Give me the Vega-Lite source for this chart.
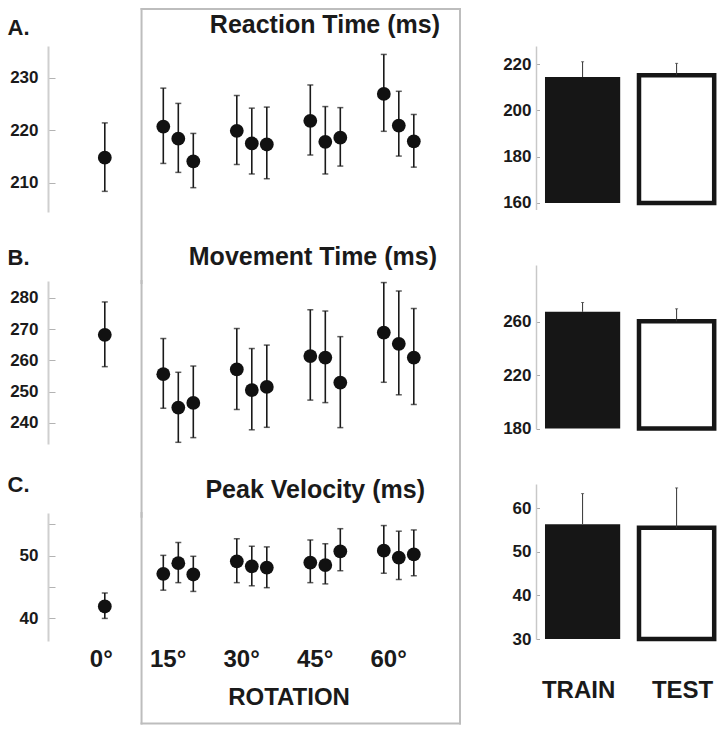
{
  "$schema": "https://vega.github.io/schema/vega-lite/v6.json",
  "background": "white",
  "padding": {"left": 7, "top": 7, "right": 0, "bottom": 0},
  "config": {
    "font": "Liberation Sans",
    "view": {"stroke": null},
    "title": {"fontSize": 25, "fontWeight": "bold", "color": "#1a1a1a"},
    "axis": {"grid": false, "labelFontWeight": "bold", "labelColor": "#1a1a1a", "titleColor": "#1a1a1a", "titleFontWeight": "bold"}
  },
  "datasets": {
    "box": [{"rotation": "15°"}],
    "rot": [
      {"measure": "RT", "rotation": "0°", "block": "2", "mean": 214.8, "lo": 208.4, "hi": 221.4},
      {"measure": "RT", "rotation": "15°", "block": "1", "mean": 220.7, "lo": 213.7, "hi": 228.0},
      {"measure": "RT", "rotation": "15°", "block": "2", "mean": 218.4, "lo": 212.0, "hi": 225.1},
      {"measure": "RT", "rotation": "15°", "block": "3", "mean": 214.1, "lo": 209.1, "hi": 219.4},
      {"measure": "RT", "rotation": "30°", "block": "1", "mean": 219.9, "lo": 213.5, "hi": 226.6},
      {"measure": "RT", "rotation": "30°", "block": "2", "mean": 217.5, "lo": 211.7, "hi": 224.2},
      {"measure": "RT", "rotation": "30°", "block": "3", "mean": 217.3, "lo": 210.8, "hi": 224.4},
      {"measure": "RT", "rotation": "45°", "block": "1", "mean": 221.8, "lo": 215.3, "hi": 228.6},
      {"measure": "RT", "rotation": "45°", "block": "2", "mean": 217.8, "lo": 211.7, "hi": 224.5},
      {"measure": "RT", "rotation": "45°", "block": "3", "mean": 218.6, "lo": 213.2, "hi": 224.3},
      {"measure": "RT", "rotation": "60°", "block": "1", "mean": 226.9, "lo": 219.8, "hi": 234.4},
      {"measure": "RT", "rotation": "60°", "block": "2", "mean": 220.9, "lo": 215.1, "hi": 227.4},
      {"measure": "RT", "rotation": "60°", "block": "3", "mean": 217.9, "lo": 213.0, "hi": 223.0},
      {"measure": "MT", "rotation": "0°", "block": "2", "mean": 268.2, "lo": 258.0, "hi": 278.7},
      {"measure": "MT", "rotation": "15°", "block": "1", "mean": 255.6, "lo": 244.7, "hi": 267.0},
      {"measure": "MT", "rotation": "15°", "block": "2", "mean": 244.9, "lo": 233.8, "hi": 256.2},
      {"measure": "MT", "rotation": "15°", "block": "3", "mean": 246.4, "lo": 235.3, "hi": 258.2},
      {"measure": "MT", "rotation": "30°", "block": "1", "mean": 257.1, "lo": 244.3, "hi": 270.2},
      {"measure": "MT", "rotation": "30°", "block": "2", "mean": 250.5, "lo": 237.8, "hi": 263.8},
      {"measure": "MT", "rotation": "30°", "block": "3", "mean": 251.5, "lo": 238.6, "hi": 264.9},
      {"measure": "MT", "rotation": "45°", "block": "1", "mean": 261.4, "lo": 247.3, "hi": 276.2},
      {"measure": "MT", "rotation": "45°", "block": "2", "mean": 260.9, "lo": 246.5, "hi": 275.8},
      {"measure": "MT", "rotation": "45°", "block": "3", "mean": 252.9, "lo": 238.5, "hi": 267.6},
      {"measure": "MT", "rotation": "60°", "block": "1", "mean": 268.9, "lo": 253.0, "hi": 284.9},
      {"measure": "MT", "rotation": "60°", "block": "2", "mean": 265.3, "lo": 249.0, "hi": 282.2},
      {"measure": "MT", "rotation": "60°", "block": "3", "mean": 260.9, "lo": 245.9, "hi": 276.6},
      {"measure": "PV", "rotation": "0°", "block": "2", "mean": 41.9, "lo": 40.0, "hi": 44.05},
      {"measure": "PV", "rotation": "15°", "block": "1", "mean": 47.1, "lo": 44.5, "hi": 50.05},
      {"measure": "PV", "rotation": "15°", "block": "2", "mean": 48.8, "lo": 45.7, "hi": 52.1},
      {"measure": "PV", "rotation": "15°", "block": "3", "mean": 47.0, "lo": 44.3, "hi": 49.9},
      {"measure": "PV", "rotation": "30°", "block": "1", "mean": 49.1, "lo": 45.7, "hi": 52.7},
      {"measure": "PV", "rotation": "30°", "block": "2", "mean": 48.3, "lo": 45.2, "hi": 51.5},
      {"measure": "PV", "rotation": "30°", "block": "3", "mean": 48.1, "lo": 44.9, "hi": 51.4},
      {"measure": "PV", "rotation": "45°", "block": "1", "mean": 48.9, "lo": 45.7, "hi": 52.5},
      {"measure": "PV", "rotation": "45°", "block": "2", "mean": 48.5, "lo": 45.5, "hi": 51.9},
      {"measure": "PV", "rotation": "45°", "block": "3", "mean": 50.7, "lo": 47.6, "hi": 54.3},
      {"measure": "PV", "rotation": "60°", "block": "1", "mean": 50.8, "lo": 47.2, "hi": 54.8},
      {"measure": "PV", "rotation": "60°", "block": "2", "mean": 49.7, "lo": 46.2, "hi": 53.9},
      {"measure": "PV", "rotation": "60°", "block": "3", "mean": 50.2, "lo": 46.8, "hi": 54.1}
    ],
    "bars": [
      {"measure": "RT", "cond": "TRAIN", "mean": 214.4, "hi": 221.0},
      {"measure": "RT", "cond": "TEST", "mean": 215.2, "hi": 220.3},
      {"measure": "MT", "cond": "TRAIN", "mean": 267.5, "hi": 274.5},
      {"measure": "MT", "cond": "TEST", "mean": 260.4, "hi": 269.75},
      {"measure": "PV", "cond": "TRAIN", "mean": 56.3, "hi": 63.3},
      {"measure": "PV", "cond": "TEST", "mean": 55.5, "hi": 64.6}
    ]
  },
  "bounds": "flush",
  "spacing": 488,
  "hconcat": [
    {
      "bounds": "flush",
      "spacing": 69,
      "vconcat": [
        {
          "width": 412, "height": 166,
          "title": {"text": "Reaction Time (ms)", "anchor": "end", "frame": "group", "offset": -30, "dx": -20},
          "layer": [
            {"data": {"name": "box"}, "mark": {"type": "rule", "stroke": "#bdbdbd", "strokeWidth": 2, "strokeCap": "square"},
             "encoding": {"x": {"field": "rotation", "type": "ordinal", "bandPosition": 0, "axis": null}, "y": {"datum": 243.03}, "y2": {"datum": 191}}},
            {"data": {"name": "box"}, "mark": {"type": "rule", "stroke": "#bdbdbd", "strokeWidth": 2, "strokeCap": "square"},
             "encoding": {"x": {"value": "width"}, "y": {"datum": 243.03}, "y2": {"datum": 191}}},
            {"data": {"name": "box"}, "mark": {"type": "rule", "stroke": "#bdbdbd", "strokeWidth": 2, "strokeCap": "square"},
             "encoding": {"x": {"field": "rotation", "type": "ordinal", "bandPosition": 0, "axis": null}, "x2": {"value": "width"}, "y": {"datum": 243.03}}},
            {"data": {"name": "rot"}, "transform": [{"filter": "datum.measure === 'RT'"}],
             "mark": {"type": "rule", "color": "#1a1a1a", "strokeWidth": 1.6},
             "encoding": {
               "x": {"field": "rotation", "type": "ordinal", "scale": {"domain": ["0°", "15°", "30°", "45°", "60°"], "paddingInner": 0, "paddingOuter": 0.3027, "align": 0.4506}, "axis": null},
               "xOffset": {"field": "block", "type": "nominal", "scale": {"domain": ["1", "2", "3"], "paddingInner": 0, "paddingOuter": 0.95}},
               "y": {"field": "lo", "type": "quantitative", "scale": {"domain": [204.48, 236.0], "nice": false, "zero": false},
                     "axis": {"values": [210, 220, 230], "title": "A.", "titleAngle": 0, "titleAlign": "left", "titleBaseline": "alphabetic", "titleX": -41, "titleY": -11.7, "titleFontSize": 22,
                              "tickSize": -7, "labelPadding": 17, "domainColor": "#cfcfcf", "domainWidth": 2, "tickColor": "#b3b3b3", "tickWidth": 1, "labelFontSize": 17}},
               "y2": {"field": "hi"}
             }},
            {"data": {"name": "rot"}, "transform": [{"filter": "datum.measure === 'RT'"}],
             "mark": {"type": "tick", "color": "#1a1a1a", "size": 6, "thickness": 1.5},
             "encoding": {"x": {"field": "rotation", "type": "ordinal", "axis": null}, "xOffset": {"field": "block", "type": "nominal"}, "y": {"field": "lo", "type": "quantitative"}}},
            {"data": {"name": "rot"}, "transform": [{"filter": "datum.measure === 'RT'"}],
             "mark": {"type": "tick", "color": "#1a1a1a", "size": 6, "thickness": 1.5},
             "encoding": {"x": {"field": "rotation", "type": "ordinal", "axis": null}, "xOffset": {"field": "block", "type": "nominal"}, "y": {"field": "hi", "type": "quantitative"}}},
            {"data": {"name": "rot"}, "transform": [{"filter": "datum.measure === 'RT'"}],
             "mark": {"type": "circle", "color": "#111111", "size": 190, "opacity": 1},
             "encoding": {"x": {"field": "rotation", "type": "ordinal", "axis": null}, "xOffset": {"field": "block", "type": "nominal"}, "y": {"field": "mean", "type": "quantitative"}}}
          ]
        },
        {
          "width": 412, "height": 163,
          "title": {"text": "Movement Time (ms)", "anchor": "end", "frame": "group", "offset": -24, "dx": -23},
          "layer": [
            {"data": {"name": "box"}, "mark": {"type": "rule", "stroke": "#bdbdbd", "strokeWidth": 2, "strokeCap": "square"},
             "encoding": {"x": {"field": "rotation", "type": "ordinal", "bandPosition": 0, "axis": null}, "y": {"datum": 285.4}, "y2": {"datum": 210}}},
            {"data": {"name": "box"}, "mark": {"type": "rule", "stroke": "#bdbdbd", "strokeWidth": 2, "strokeCap": "square"},
             "encoding": {"x": {"value": "width"}, "y": {"datum": 285.4}, "y2": {"datum": 210}}},
            {"data": {"name": "rot"}, "transform": [{"filter": "datum.measure === 'MT'"}],
             "mark": {"type": "rule", "color": "#1a1a1a", "strokeWidth": 1.6},
             "encoding": {
               "x": {"field": "rotation", "type": "ordinal", "scale": {"domain": ["0°", "15°", "30°", "45°", "60°"], "paddingInner": 0, "paddingOuter": 0.3027, "align": 0.4506}, "axis": null},
               "xOffset": {"field": "block", "type": "nominal", "scale": {"domain": ["1", "2", "3"], "paddingInner": 0, "paddingOuter": 0.95}},
               "y": {"field": "lo", "type": "quantitative", "scale": {"domain": [233.26, 285.4], "nice": false, "zero": false},
                     "axis": {"values": [240, 250, 260, 270, 280], "title": "B.", "titleAngle": 0, "titleAlign": "left", "titleBaseline": "alphabetic", "titleX": -41, "titleY": -16.7, "titleFontSize": 22,
                              "tickSize": -7, "labelPadding": 17, "domainColor": "#cfcfcf", "domainWidth": 2, "tickColor": "#b3b3b3", "tickWidth": 1, "labelFontSize": 17}},
               "y2": {"field": "hi"}
             }},
            {"data": {"name": "rot"}, "transform": [{"filter": "datum.measure === 'MT'"}],
             "mark": {"type": "tick", "color": "#1a1a1a", "size": 6, "thickness": 1.5},
             "encoding": {"x": {"field": "rotation", "type": "ordinal", "axis": null}, "xOffset": {"field": "block", "type": "nominal"}, "y": {"field": "lo", "type": "quantitative"}}},
            {"data": {"name": "rot"}, "transform": [{"filter": "datum.measure === 'MT'"}],
             "mark": {"type": "tick", "color": "#1a1a1a", "size": 6, "thickness": 1.5},
             "encoding": {"x": {"field": "rotation", "type": "ordinal", "axis": null}, "xOffset": {"field": "block", "type": "nominal"}, "y": {"field": "hi", "type": "quantitative"}}},
            {"data": {"name": "rot"}, "transform": [{"filter": "datum.measure === 'MT'"}],
             "mark": {"type": "circle", "color": "#111111", "size": 190, "opacity": 1},
             "encoding": {"x": {"field": "rotation", "type": "ordinal", "axis": null}, "xOffset": {"field": "block", "type": "nominal"}, "y": {"field": "mean", "type": "quantitative"}}}
          ]
        },
        {
          "width": 412, "height": 128,
          "title": {"text": "Peak Velocity (ms)", "anchor": "end", "frame": "group", "offset": -30, "dx": -35},
          "layer": [
            {"data": {"name": "box"}, "mark": {"type": "rule", "stroke": "#bdbdbd", "strokeWidth": 2, "strokeCap": "square"},
             "encoding": {"x": {"field": "rotation", "type": "ordinal", "bandPosition": 0}, "y": {"datum": 56.8}, "y2": {"datum": 23.25}}},
            {"data": {"name": "box"}, "mark": {"type": "rule", "stroke": "#bdbdbd", "strokeWidth": 2, "strokeCap": "square"},
             "encoding": {"x": {"value": "width"}, "y": {"datum": 56.8}, "y2": {"datum": 23.25}}},
            {"data": {"name": "box"}, "mark": {"type": "rule", "stroke": "#bdbdbd", "strokeWidth": 2, "strokeCap": "square"},
             "encoding": {"x": {"field": "rotation", "type": "ordinal", "bandPosition": 0}, "x2": {"value": "width"}, "y": {"datum": 23.25}}},
            {"data": {"name": "rot"}, "transform": [{"filter": "datum.measure === 'PV'"}],
             "mark": {"type": "rule", "color": "#1a1a1a", "strokeWidth": 1.6},
             "encoding": {
               "x": {"field": "rotation", "type": "ordinal", "scale": {"domain": ["0°", "15°", "30°", "45°", "60°"], "paddingInner": 0, "paddingOuter": 0.3027, "align": 0.4506},
                     "axis": {"title": "ROTATION", "titleFontSize": 24, "titlePadding": 14, "titleX": 240.5, "titleAlign": "center", "labelFontSize": 24, "labelPadding": 18, "labelOffset": 8, "labelAngle": 0, "domain": false, "ticks": false}},
               "xOffset": {"field": "block", "type": "nominal", "scale": {"domain": ["1", "2", "3"], "paddingInner": 0, "paddingOuter": 0.95}},
               "y": {"field": "lo", "type": "quantitative", "scale": {"domain": [36.4, 56.8], "nice": false, "zero": false},
                     "axis": {"values": [40, 45, 50, 55], "labelExpr": "datum.value % 10 === 0 ? datum.label : ''", "title": "C.", "titleAngle": 0, "titleAlign": "left", "titleBaseline": "alphabetic", "titleX": -41, "titleY": -22, "titleFontSize": 22,
                              "tickSize": -7, "labelPadding": 17, "domainColor": "#cfcfcf", "domainWidth": 2, "tickColor": "#b3b3b3", "tickWidth": 1, "labelFontSize": 17}},
               "y2": {"field": "hi"}
             }},
            {"data": {"name": "rot"}, "transform": [{"filter": "datum.measure === 'PV'"}],
             "mark": {"type": "tick", "color": "#1a1a1a", "size": 6, "thickness": 1.5},
             "encoding": {"x": {"field": "rotation", "type": "ordinal"}, "xOffset": {"field": "block", "type": "nominal"}, "y": {"field": "lo", "type": "quantitative"}}},
            {"data": {"name": "rot"}, "transform": [{"filter": "datum.measure === 'PV'"}],
             "mark": {"type": "tick", "color": "#1a1a1a", "size": 6, "thickness": 1.5},
             "encoding": {"x": {"field": "rotation", "type": "ordinal"}, "xOffset": {"field": "block", "type": "nominal"}, "y": {"field": "hi", "type": "quantitative"}}},
            {"data": {"name": "rot"}, "transform": [{"filter": "datum.measure === 'PV'"}],
             "mark": {"type": "circle", "color": "#111111", "size": 190, "opacity": 1},
             "encoding": {"x": {"field": "rotation", "type": "ordinal"}, "xOffset": {"field": "block", "type": "nominal"}, "y": {"field": "mean", "type": "quantitative"}}}
          ]
        }
      ]
    },
    {
      "bounds": "flush",
      "spacing": 55,
      "vconcat": [
        {
          "width": 180, "height": 163.5,
          "data": {"name": "bars"},
          "transform": [{"filter": "datum.measure === 'RT'"}],
          "layer": [
            {"mark": {"type": "bar", "strokeWidth": 4.5},
             "encoding": {
               "x": {"field": "cond", "type": "nominal", "scale": {"domain": ["TRAIN", "TEST"], "paddingInner": 0.2, "paddingOuter": 0.0574, "align": 0.833}, "axis": null},
               "y": {"field": "mean", "type": "quantitative", "scale": {"domain": [157.19, 227.8], "nice": false, "zero": false},
                     "axis": {"values": [160, 170, 180, 190, 200, 210, 220], "labelExpr": "datum.value % 20 === 0 ? datum.label : ''", "title": null, "tickSize": -3.5, "labelPadding": 8.5, "domainColor": "#c8c8c8", "domainWidth": 1.5, "tickColor": "#aaaaaa", "labelFontSize": 17}},
               "y2": {"datum": 160},
               "fill": {"condition": {"test": "datum.cond === 'TRAIN'", "value": "#161616"}, "value": "#ffffff"},
               "stroke": {"condition": {"test": "datum.cond === 'TEST'", "value": "#161616"}, "value": "transparent"}
             }},
            {"mark": {"type": "rule", "color": "#333333", "strokeWidth": 1},
             "encoding": {"x": {"field": "cond", "type": "nominal", "axis": null}, "y": {"field": "mean", "type": "quantitative"}, "y2": {"field": "hi"}}},
            {"mark": {"type": "tick", "color": "#333333", "size": 3, "thickness": 1},
             "encoding": {"x": {"field": "cond", "type": "nominal", "axis": null}, "y": {"field": "hi", "type": "quantitative"}}}
          ]
        },
        {
          "width": 180, "height": 163.5,
          "data": {"name": "bars"},
          "transform": [{"filter": "datum.measure === 'MT'"}],
          "layer": [
            {"mark": {"type": "bar", "strokeWidth": 4.5},
             "encoding": {
               "x": {"field": "cond", "type": "nominal", "scale": {"domain": ["TRAIN", "TEST"], "paddingInner": 0.2, "paddingOuter": 0.0574, "align": 0.833}, "axis": null},
               "y": {"field": "mean", "type": "quantitative", "scale": {"domain": [180, 302.6], "nice": false, "zero": false},
                     "axis": {"values": [180, 190, 200, 210, 220, 230, 240, 250, 260, 270, 280, 290], "labelExpr": "datum.value % 40 === 20 ? datum.label : ''", "title": null, "tickSize": -3.5, "labelPadding": 8.5, "domainColor": "#c8c8c8", "domainWidth": 1.5, "tickColor": "#aaaaaa", "labelFontSize": 17}},
               "y2": {"datum": 180},
               "fill": {"condition": {"test": "datum.cond === 'TRAIN'", "value": "#161616"}, "value": "#ffffff"},
               "stroke": {"condition": {"test": "datum.cond === 'TEST'", "value": "#161616"}, "value": "transparent"}
             }},
            {"mark": {"type": "rule", "color": "#333333", "strokeWidth": 1},
             "encoding": {"x": {"field": "cond", "type": "nominal", "axis": null}, "y": {"field": "mean", "type": "quantitative"}, "y2": {"field": "hi"}}},
            {"mark": {"type": "tick", "color": "#333333", "size": 3, "thickness": 1},
             "encoding": {"x": {"field": "cond", "type": "nominal", "axis": null}, "y": {"field": "hi", "type": "quantitative"}}}
          ]
        },
        {
          "width": 180, "height": 155,
          "data": {"name": "bars"},
          "transform": [{"filter": "datum.measure === 'PV'"}],
          "layer": [
            {"mark": {"type": "bar", "strokeWidth": 4.5},
             "encoding": {
               "x": {"field": "cond", "type": "nominal", "scale": {"domain": ["TRAIN", "TEST"], "paddingInner": 0.2, "paddingOuter": 0.0574, "align": 0.833},
                     "axis": {"title": null, "domain": false, "ticks": false, "labelFontSize": 24, "labelPadding": 39.5, "labelAngle": 0,
                              "labelOffset": {"condition": {"test": "datum.value === 'TEST'", "value": 6}, "value": -4}}},
               "y": {"field": "mean", "type": "quantitative", "scale": {"domain": [30, 65.5], "nice": false, "zero": false},
                     "axis": {"values": [30, 35, 40, 45, 50, 55, 60, 65], "labelExpr": "datum.value % 10 === 0 ? datum.label : ''", "title": null, "tickSize": -3.5, "labelPadding": 8.5, "domainColor": "#c8c8c8", "domainWidth": 1.5, "tickColor": "#aaaaaa", "labelFontSize": 17}},
               "y2": {"datum": 30},
               "fill": {"condition": {"test": "datum.cond === 'TRAIN'", "value": "#161616"}, "value": "#ffffff"},
               "stroke": {"condition": {"test": "datum.cond === 'TEST'", "value": "#161616"}, "value": "transparent"}
             }},
            {"mark": {"type": "rule", "color": "#333333", "strokeWidth": 1},
             "encoding": {"x": {"field": "cond", "type": "nominal"}, "y": {"field": "mean", "type": "quantitative"}, "y2": {"field": "hi"}}},
            {"mark": {"type": "tick", "color": "#333333", "size": 3, "thickness": 1},
             "encoding": {"x": {"field": "cond", "type": "nominal"}, "y": {"field": "hi", "type": "quantitative"}}}
          ]
        }
      ]
    }
  ]
}
